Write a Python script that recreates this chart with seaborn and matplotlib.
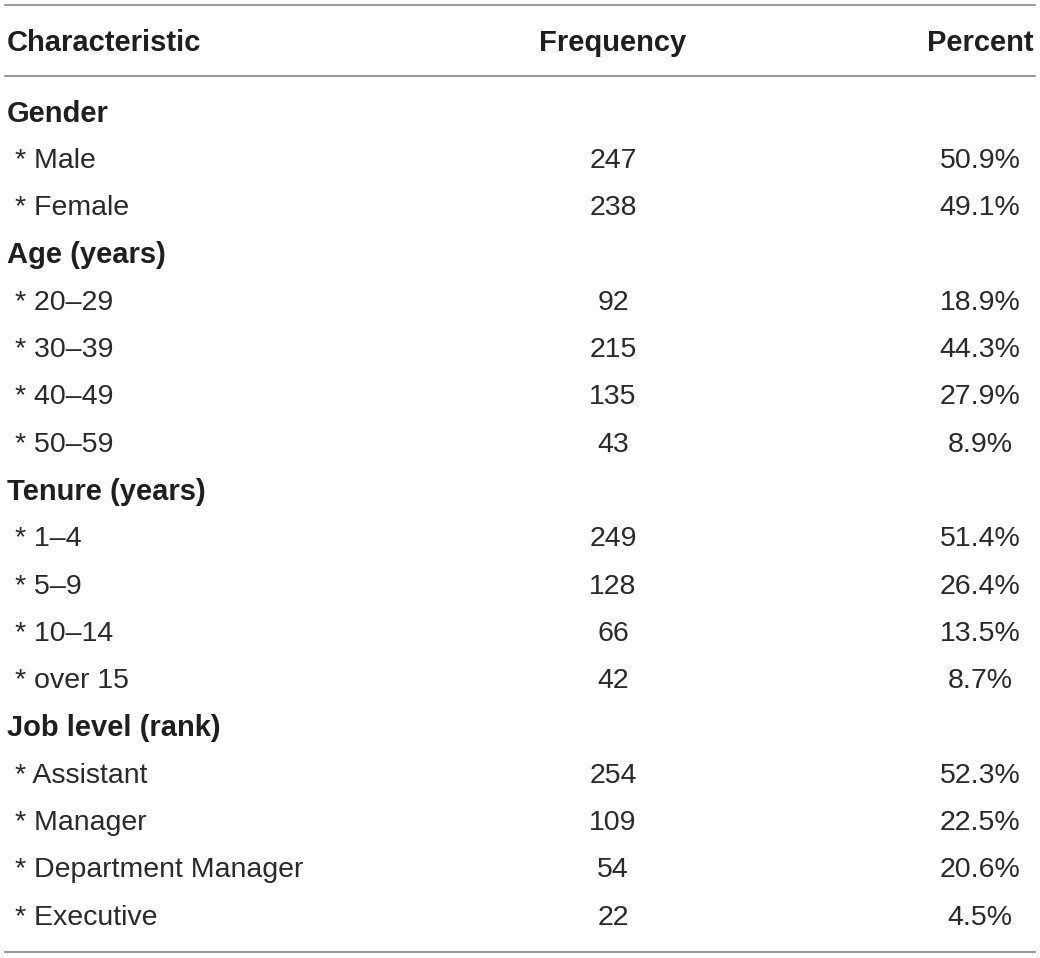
import seaborn as sns
from matplotlib import pyplot as plt

sns.set_theme(style="white")
plt.rcParams['font.family'] = ['Liberation Sans', 'DejaVu Sans']

headers = ["Characteristic", "Frequency", "Percent"]
groups = ["Gender", "Age (years)", "Tenure (years)", "Job level (rank)"]
items = [
    ["Male", "Female"],
    ["20–29", "30–39", "40–49", "50–59"],
    ["1–4", "5–9", "10–14", "over 15"],
    ["Assistant", "Manager", "Department Manager", "Executive"],
]
freqs = [
    [247, 238],
    [92, 215, 135, 43],
    [249, 128, 66, 42],
    [254, 109, 54, 22],
]
percents = [
    [50.9, 49.1],
    [18.9, 44.3, 27.9, 8.9],
    [51.4, 26.4, 13.5, 8.7],
    [52.3, 22.5, 20.6, 4.5],
]

fig = plt.figure(figsize=(10.4, 9.58), dpi=100)
ax = fig.add_axes([0, 0, 1, 1])
ax.set_xlim(0, 1040)
ax.set_ylim(958, 0)
ax.axis('off')

row0 = 113.5
step = 47.3
bsize = 21
size = 20.5
col_freq = 613
col_pct = 980
line_col = "#9a9a9a"
dark = "#1f1f1f"
body = "#2a2a2a"

ax.text(7, 42.5, headers[0], fontsize=bsize, fontweight='bold', va='center', color=dark)
ax.text(col_freq, 42.5, headers[1], fontsize=bsize, fontweight='bold', va='center', ha='center', color=dark)
ax.text(1034, 42.5, headers[2], fontsize=bsize, fontweight='bold', va='center', ha='right', color=dark)

r = 0
for g, names, fs, ps in zip(groups, items, freqs, percents):
    y = row0 + r * step
    ax.text(7, y, g, fontsize=bsize, fontweight='bold', va='center', color=dark)
    r += 1
    for n, f, p in zip(names, fs, ps):
        y = row0 + r * step
        ax.text(15, y, "* " + n, fontsize=size, va='center', color=body)
        ax.text(col_freq, y, str(f), fontsize=size, va='center', ha='center', color=body)
        ax.text(col_pct, y, f"{p:.1f}%", fontsize=size, va='center', ha='center', color=body)
        r += 1

for yl in [5, 76, 952]:
    ax.plot([5, 1035], [yl, yl], color=line_col, lw=1.5)

fig.savefig("out.png", dpi=100)
